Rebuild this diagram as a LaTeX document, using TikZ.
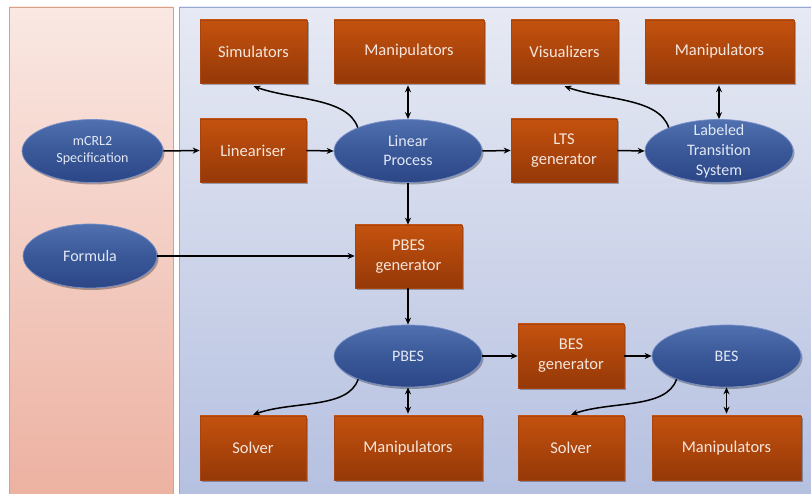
\documentclass[tikz,border=0pt]{standalone}
\usepackage{fontspec}
\setmainfont{Carlito}
\usetikzlibrary{shapes.geometric,shadows,arrows.meta}
\definecolor{boxtop}{HTML}{C4520E}
\definecolor{boxbot}{HTML}{953808}
\definecolor{boxedge}{HTML}{A84410}
\definecolor{elltop}{HTML}{5070B0}
\definecolor{ellmid}{HTML}{3A5898}
\definecolor{ellbot}{HTML}{2C4686}
\definecolor{elledge}{HTML}{7890C8}
\definecolor{boxtxt}{HTML}{F6E6DE}
\definecolor{elltxt}{HTML}{E2E8F5}
\definecolor{lefttop}{HTML}{FAE8E3}
\definecolor{leftbot}{HTML}{ECB1A1}
\definecolor{leftedge}{HTML}{D9A088}
\definecolor{righttop}{HTML}{E7EAF4}
\definecolor{rightbot}{HTML}{B5C0E0}
\definecolor{rightedge}{HTML}{95A7D2}
\tikzset{
  proc/.style={rectangle, minimum height=63, inner sep=0pt, top color=boxtop, bottom color=boxbot,
    draw=boxedge, line width=0.6pt, text=boxtxt, font=\fontsize{16.5}{20}\selectfont, align=center,
    drop shadow={shadow xshift=2pt, shadow yshift=-2pt, opacity=0.3, fill=black}},
  ell/.style={ellipse, minimum height=63, inner sep=0pt, top color=elltop, bottom color=ellbot,
    middle color=ellmid, draw=elledge, line width=0.7pt,
    drop shadow={shadow xshift=1.5pt, shadow yshift=-2pt, opacity=0.3, fill=black}},
  elltext/.style={text=elltxt, font=\fontsize{16}{20}\selectfont, align=center, inner sep=0pt},
  arr/.style={-{Stealth[length=7pt,width=6pt]}, line width=1.5pt, black},
  darr/.style={{Stealth[length=7pt,width=6pt]}-{Stealth[length=7pt,width=6pt]}, line width=1.5pt, black},
}
\begin{document}
\begin{tikzpicture}[x=1pt,y=1pt]
\clip (0,0) rectangle (811,494);
\fill[white] (0,0) rectangle (811,494);
% panels
\path[top color=lefttop, bottom color=leftbot, draw=leftedge, line width=0.8pt] (9,487) rectangle (173,-4);
\path[top color=righttop, bottom color=rightbot, draw=rightedge, line width=0.8pt] (179,487) rectangle (815,-4);

% top row boxes
\node[proc, minimum width=107] (sim) at (253.5,442.5) {Simulators};
\node[proc, minimum width=150] (man1) at (409,442.5) {Manipulators};
\node[proc, minimum width=107] (vis) at (564.5,442.5) {Visualizers};
\node[proc, minimum width=149] (man2) at (719.5,442.5) {Manipulators};

% second row
\node[ell, minimum width=141] (spec) at (92.5,343) {};
\node[elltext, font=\fontsize{14}{17}\selectfont] (spect) at (spec.center) {mCRL2\\Specification};
\node[proc, minimum width=106] (lin) at (253,343.5) {Lineariser};
\node[ell, minimum width=148] (lp) at (408,343) {};
\node[elltext, font=\fontsize{16}{19}\selectfont] (lpt) at (lp.center) {Linear\\Process};
\node[proc, minimum width=106] (ltsg) at (564,343.5) {LTS\\generator};
\node[ell, minimum width=148] (lts) at (719,343) {};
\node[elltext] (ltst) at (lts.center) {Labeled\\Transition\\System};

% third row
\node[ell, minimum width=134, minimum height=64] (form) at (90,238) {};
\node[elltext] (formt) at (form.center) {Formula};
\node[proc, minimum width=107] (pbesg) at (408.5,237.5) {PBES\\generator};

% fourth row
\node[ell, minimum width=148, minimum height=62] (pbes) at (408,138) {};
\node[elltext] (pbest) at (pbes.center) {PBES};
\node[proc, minimum width=106, minimum height=64] (besg) at (571,138) {BES\\generator};
\node[ell, minimum width=149, minimum height=62] (bes) at (726.5,138) {};
\node[elltext] (best) at (bes.center) {BES};

% bottom row
\node[proc, minimum width=106, minimum height=64] (sol1) at (253,46) {Solver};
\node[proc, minimum width=148, minimum height=64] (man3) at (408,46) {Manipulators};
\node[proc, minimum width=106, minimum height=64] (sol2) at (571,46) {Solver};
\node[proc, minimum width=149, minimum height=64] (man4) at (726.5,46) {Manipulators};

% straight arrows
\draw[arr] (spec.east) -- (lin.west);
\draw[arr] (lin.east) -- (lp.west);
\draw[arr] (lp.east) -- (ltsg.west);
\draw[arr] (ltsg.east) -- (lts.west);
\draw[arr] (form.east) -- (form.east -| pbesg.west);
\draw[arr] (lp.south) -- (pbesg.north -| lp.south);
\draw[arr] (pbesg.south -| pbes.north) -- (pbes.north);
\draw[arr] (pbes.east) -- (besg.west);
\draw[arr] (besg.east) -- (bes.west);
\draw[darr] ([yshift=-2pt]man1.south -| lp.north) -- (lp.north);
\draw[darr] ([yshift=-2pt]man2.south -| lts.north) -- (lts.north);
\draw[darr] (pbes.south) -- ([yshift=2pt]man3.north -| pbes.south);
\draw[darr] (bes.south) -- ([yshift=2pt]man4.north -| bes.south);

% curved arrows
\draw[arr] (lp.155) .. controls +(-10,30) and +(40,-14) .. ([yshift=-3pt]sim.south);
\draw[arr] (lts.155) .. controls +(-10,30) and +(40,-14) .. ([yshift=-3pt]vis.south);
\draw[arr] (pbes.205) .. controls +(-10,-30) and +(40,14) .. ([yshift=1pt]sol1.north);
\draw[arr] (bes.205) .. controls +(-10,-30) and +(40,14) .. ([yshift=1pt]sol2.north);
\end{tikzpicture}
\end{document}
